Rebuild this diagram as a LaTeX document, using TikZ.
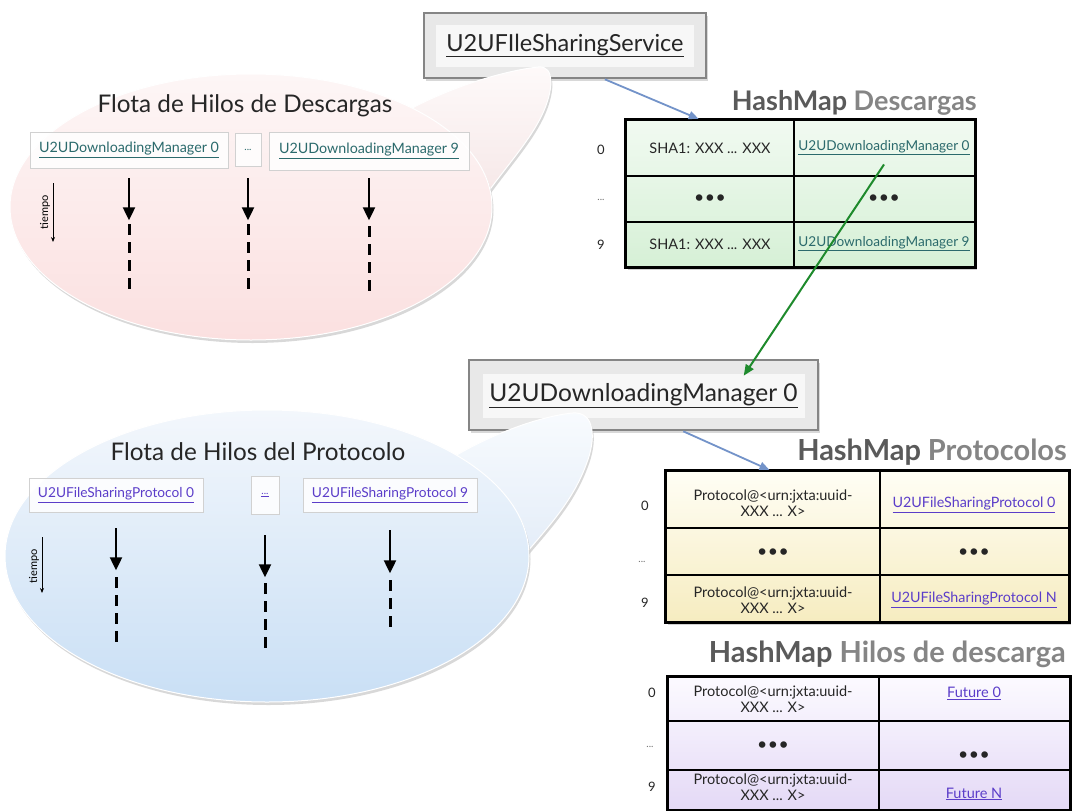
\documentclass[tikz,border=0pt]{standalone}
\usepackage{fontspec}
\setmainfont{Lato}
\usetikzlibrary{shadows,calc,arrows.meta}

\definecolor{tealink}{HTML}{2B6A6C}
\definecolor{purplelink}{HTML}{5B3DC9}
\definecolor{arrowblue}{HTML}{7393C9}
\definecolor{arrowgreen}{HTML}{1E8A2C}
\definecolor{titledark}{HTML}{5A5A5A}
\definecolor{titlelight}{HTML}{858585}

\newcommand{\fsz}[1]{\fontsize{#1}{#1}\selectfont}
\newcommand{\threedots}{\textbullet\kern2pt\textbullet\kern2pt\textbullet}

\begin{document}
\begin{tikzpicture}[x=1pt,y=-1pt,
  every node/.style={inner sep=0pt},
  bubbleshape/.style={draw=white, line width=1pt,
    drop shadow={opacity=0.3, shadow xshift=1.5pt, shadow yshift=-3pt}},
  threadbox/.style={draw=black!18, line width=0.6pt, fill=white, fill opacity=0.85, text opacity=1},
  bubbletitle/.style={font=\fsz{24.3}, text=black!85},
  timearrow/.style={line width=2.2pt, -{Triangle[length=13pt,width=12pt]}},
  threaddash/.style={line width=3pt, dash pattern=on 11pt off 7pt},
  tiempoarrow/.style={line width=1pt, -{Stealth[length=5pt,width=4pt]}},
  frameouter/.style={draw=black!48, line width=2.6pt, fill=black!9,
    drop shadow={opacity=0.3, shadow xshift=2pt, shadow yshift=-3pt}},
  frameinner/.style={fill=black!3, font=\fsz{23.5}, text=black!85},
  tableframe/.style={draw=black, line width=2pt,
    drop shadow={opacity=0.35, shadow xshift=2pt, shadow yshift=-3pt}},
  gridline/.style={line width=1.6pt},
  hmtitle/.style={font=\bfseries\fsz{29}, anchor=east},
  rowlabel/.style={font=\fsz{13}, text=black!85},
  rowdots/.style={font=\fsz{10}, text=black!55},
  celltext/.style={font=\fontsize{14.5}{15.5}\selectfont, text=black!85, align=center},
  dotstext/.style={font=\bfseries\fsz{15}, text=black!85},
  bluearrow/.style={draw=arrowblue, line width=1.8pt, -{Triangle[length=10pt,width=8pt]}},
  greenarrow/.style={draw=arrowgreen, line width=2pt, -{Triangle[length=11pt,width=9pt]}}
]
\useasboundingbox (0,0) rectangle (1074,811);
\fill[white] (0,0) rectangle (1074,811);

% ---------- service and manager frames ----------
\node[frameouter, minimum width=282pt, minimum height=65pt] (svcframe) at (565,45.5) {};
\node[frameinner, minimum width=258pt, minimum height=42pt] (svc) at (565,45.5) {\underline{U2UFIleSharingService}};

\node[frameouter, minimum width=349pt, minimum height=70pt] (midframe) at (643.5,395) {};
\node[frameinner, minimum width=322pt, minimum height=44pt, font=\fsz{24.5}] (mid) at (643.5,396) {\underline{U2UDownloadingManager 0}};

% ---------- download thread pool bubble ----------
% callout tail, then the ellipse over it
\path[bubbleshape, top color={rgb,255:red,254;green,250;blue,250}, bottom color={rgb,255:red,246;green,232;blue,232}]
  (405,112) .. controls (440,92) and (495,72) .. (538,67)
  .. controls (556,65) and (553,92) .. (542,115)
  .. controls (530,140) and (510,162) .. (488,192) -- (440,160) -- cycle;
\path[bubbleshape, top color={rgb,255:red,253;green,246;blue,246}, bottom color={rgb,255:red,251;green,224;blue,224}]
  (251,207) ellipse [x radius=241, y radius=133];

\node[bubbletitle] (flotaD) at (245,106) {Flota de Hilos de Descargas};
\node[threadbox, minimum width=198pt, minimum height=36pt, text=tealink, font=\fsz{14.3}] (dm0) at (129,150) {\underline{U2UDownloadingManager 0}};
\node[threadbox, minimum width=26pt, minimum height=33pt, text=tealink, font=\fsz{10}] (dmd) at (248,149.5) {...};
\node[threadbox, minimum width=200pt, minimum height=38pt, text=tealink, font=\fsz{14.3}] (dm9) at (369,151) {\underline{U2UDownloadingManager 9}};

\draw[timearrow] ($(dm0.south)+(0,10)$) -- ++(0,42);
\draw[threaddash] ($(dm0.south)+(0,56)$) -- ++(0,72);
\draw[timearrow] ($(dmd.south)+(0,12)$) -- ++(0,42);
\draw[threaddash] ($(dmd.south)+(0,58)$) -- ++(0,72);
\draw[timearrow] ($(dm9.south)+(0,8)$) -- ++(0,42);
\draw[threaddash] ($(dm9.south)+(0,56)$) -- ++(0,72);

\node[rotate=90, font=\fsz{11}] (tiempoD) at (45,212) {tiempo};
\coordinate (tiempoDtop) at (53,183);
\draw[tiempoarrow] (tiempoDtop) -- ++(0,59);

% ---------- protocol thread pool bubble ----------
\path[bubbleshape, top color={rgb,255:red,248;green,251;blue,254}, bottom color={rgb,255:red,228;green,237;blue,248}]
  (445,462) .. controls (480,440) and (530,418) .. (572,413)
  .. controls (596,411) and (596,440) .. (586,465)
  .. controls (573,500) and (550,525) .. (527,552) -- (470,520) -- cycle;
\path[bubbleshape, top color={rgb,255:red,243;green,247;blue,252}, bottom color={rgb,255:red,201;green,223;blue,245}]
  (267,556) ellipse [x radius=262, y radius=146];

\node[bubbletitle] (flotaP) at (258,452) {Flota de Hilos del Protocolo};
\node[threadbox, minimum width=174pt, minimum height=34pt, text=purplelink, font=\fsz{13.7}] (p0) at (116,495) {\underline{U2UFileSharingProtocol 0}};
\node[threadbox, minimum width=28pt, minimum height=38pt, text=purplelink, font=\fsz{10}] (pd) at (265,495) {\underline{...}};
\node[threadbox, minimum width=174pt, minimum height=34pt, text=purplelink, font=\fsz{13.7}] (p9) at (390,495) {\underline{U2UFileSharingProtocol 9}};

\draw[timearrow] ($(p0.south)+(0,16)$) -- ++(0,42);
\draw[threaddash] ($(p0.south)+(0,65)$) -- ++(0,71);
\draw[timearrow] ($(pd.south)+(0,21)$) -- ++(0,42);
\draw[threaddash] ($(pd.south)+(0,69)$) -- ++(0,70);
\draw[timearrow] ($(p9.south)+(0,18)$) -- ++(0,43);
\draw[threaddash] ($(p9.south)+(0,68)$) -- ++(0,53);

\node[rotate=90, font=\fsz{11}] (tiempoP) at (34,566) {tiempo};
\coordinate (tiempoPtop) at (42,537);
\draw[tiempoarrow] (tiempoPtop) -- ++(0,56);

% ---------- HashMap Descargas ----------
\node[hmtitle, font=\bfseries\fsz{27}] (titD) at (977,103) {\color{titledark}HashMap \color{titlelight}Descargas};
\node[tableframe, minimum width=349pt, minimum height=147pt,
  top color={rgb,255:red,241;green,250;blue,241}, bottom color={rgb,255:red,214;green,240;blue,214}] (tabD) at (800.5,193.5) {};
\draw[gridline] (794,120) -- (794,267) (626,176) -- (975,176) (626,222) -- (975,222);
\draw[line width=2pt] (tabD.north west) rectangle (tabD.south east);
\node[rowlabel] (lD0) at (601,150) {0};
\node[rowdots] (lD1) at (601,200) {...};
\node[rowlabel] (lD9) at (601,245) {9};
\node[celltext] (d00) at (710,148) {SHA1: XXX ... XXX};
\node[celltext, text=tealink, font=\fsz{13.6}] (d01) at (884,148) {\underline{U2UDownloadingManager 0}};
\node[dotstext] (d10) at (710,199) {\threedots};
\node[dotstext] (d11) at (884,199) {\threedots};
\node[celltext] (d20) at (710,244) {SHA1: XXX ... XXX};
\node[celltext, text=tealink, font=\fsz{13.6}] (d21) at (884,244) {\underline{U2UDownloadingManager 9}};

% ---------- HashMap Protocolos ----------
\node[hmtitle] (titP) at (1067,452) {\color{titledark}HashMap \color{titlelight}Protocolos};
\node[tableframe, minimum width=403pt, minimum height=151pt,
  top color={rgb,255:red,255;green,254;blue,245}, bottom color={rgb,255:red,246;green,236;blue,192}] (tabP) at (867.5,546.5) {};
\draw[gridline] (880,471) -- (880,622) (666,528) -- (1069,528) (666,575) -- (1069,575);
\draw[line width=2pt] (tabP.north west) rectangle (tabP.south east);
\node[rowlabel] (lP0) at (645,506) {0};
\node[rowdots] (lP1) at (642,562) {...};
\node[rowlabel] (lP9) at (645,603) {9};
\node[celltext] (p00) at (773,503) {Protocol@<urn:jxta:uuid-\\XXX ... X>};
\node[celltext, text=purplelink, font=\fsz{14.3}] (p01) at (974,505) {\underline{U2UFileSharingProtocol 0}};
\node[dotstext] (p10) at (773,553) {\threedots};
\node[dotstext] (p11) at (974,553) {\threedots};
\node[celltext] (p20) at (773,600) {Protocol@<urn:jxta:uuid-\\XXX ... X>};
\node[celltext, text=purplelink, font=\fsz{14.3}] (p21) at (974,600) {\underline{U2UFileSharingProtocol N}};

% ---------- HashMap Hilos de descarga ----------
\node[hmtitle] (titH) at (1066,654) {\color{titledark}HashMap \color{titlelight}Hilos de descarga};
\node[tableframe, minimum width=402pt, minimum height=133pt,
  top color={rgb,255:red,252;green,250;blue,255}, bottom color={rgb,255:red,228;green,217;blue,246}] (tabH) at (869,743.5) {};
\draw[gridline] (879,677) -- (879,810) (668,721) -- (1070,721) (668,770) -- (1070,770);
\draw[line width=2pt] (tabH.north west) rectangle (tabH.south east);
\node[rowlabel] (lH0) at (652,693) {0};
\node[rowdots] (lH1) at (650,747) {...};
\node[rowlabel] (lH9) at (652,787) {9};
\node[celltext] (h00) at (773,699) {Protocol@<urn:jxta:uuid-\\XXX ... X>};
\node[celltext, text=purplelink] (h01) at (974,693) {\underline{Future 0}};
\node[dotstext] (h10) at (773,746) {\threedots};
\node[dotstext] (h11) at (974,756) {\threedots};
\node[celltext] (h20) at (773,787) {Protocol@<urn:jxta:uuid-\\XXX ... X>};
\node[celltext, text=purplelink] (h21) at (974,794) {\underline{Future N}};

% ---------- connectors ----------
\draw[bluearrow] ($(svcframe.south west)!0.64!(svcframe.south east)$) -- ($(tabD.north west)!0.21!(tabD.north east)$);
\draw[greenarrow] ($(d01.south)+(0,9)$) -- ($(midframe.north west)!0.785!(midframe.north east)+(0,17)$);
\draw[bluearrow] ($(midframe.south west)!0.613!(midframe.south east)$) -- ($(tabP.north west)!0.258!(tabP.north east)$);
\end{tikzpicture}
\end{document}
